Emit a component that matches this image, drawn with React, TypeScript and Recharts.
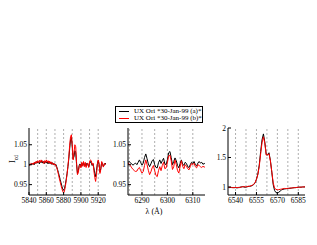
import { LineChart, Line, XAxis, YAxis, ReferenceLine } from "recharts";

const seriesNames = ["UX Ori *30-Jan-99 (a)*", "UX Ori *30-Jan-99 (b)*"];
const seriesColors = ["#000000", "#ff0000"];

// Na D region
const naWave = [
  5839, 5840, 5841, 5842, 5843, 5844, 5845, 5846, 5847, 5848, 5849, 5850, 5851, 5852, 5853, 5854,
  5855, 5856, 5857, 5858, 5859, 5860, 5861, 5862, 5863, 5864, 5865, 5866, 5867, 5868, 5869, 5870,
  5871, 5872, 5873, 5874, 5875, 5876, 5877, 5878, 5879, 5880, 5881, 5882, 5883, 5884, 5885, 5886,
  5887, 5888, 5889, 5890, 5891, 5892, 5893, 5894, 5895, 5896, 5897, 5898, 5899, 5900, 5901, 5902,
  5903, 5904, 5905, 5906, 5907, 5908, 5909, 5910, 5911, 5912, 5913, 5914, 5915, 5916, 5917, 5918,
  5919, 5920, 5921, 5922, 5923, 5924, 5925, 5926, 5927, 5928, 5929, 5930,
];
const naA = [
  1.0, 0.998, 1.002, 0.999, 1.003, 1.001, 1.004, 1.0, 1.006, 1.003, 1.008, 1.004, 1.007, 1.002, 1.009, 1.005,
  1.01, 1.004, 1.008, 1.003, 1.009, 1.004, 1.007, 1.002, 1.008, 1.003, 1.006, 1.001, 1.005, 1.0, 1.003, 0.999,
  1.001, 0.995, 0.988, 0.98, 0.972, 0.963, 0.955, 0.946, 0.939, 0.936, 0.94, 0.95, 0.963, 0.978, 0.995, 1.015,
  1.04, 1.062, 1.068, 1.045, 1.015, 1.02, 1.035, 1.03, 1.0, 0.978, 0.985, 0.998, 1.002, 0.995, 1.004, 0.998,
  1.005, 0.997, 1.003, 0.996, 1.004, 1.0, 0.995, 1.003, 1.008, 1.004, 0.998, 1.002, 0.992, 0.978, 0.97, 0.985,
  1.002, 1.01, 1.0, 0.982, 0.99, 1.006, 1.003, 0.995, 1.0, 1.004, 1.001, 1.002,
];
const naB = [
  1.002, 1.0, 0.998, 1.003, 1.001, 1.004, 1.0, 1.006, 1.003, 1.008, 1.004, 1.01, 1.005, 1.011, 1.006, 1.012,
  1.007, 1.009, 1.003, 1.01, 1.005, 1.012, 1.006, 1.01, 1.004, 1.009, 1.002, 1.007, 1.001, 1.004, 0.999, 1.002,
  0.997, 0.993, 0.985, 0.976, 0.966, 0.957, 0.948, 0.94, 0.933, 0.929, 0.934, 0.945, 0.96, 0.976, 0.996, 1.02,
  1.048, 1.07, 1.075, 1.05, 1.012, 1.03, 1.05, 1.045, 1.005, 0.975, 0.98, 0.995, 1.0, 0.992, 1.006, 0.996,
  1.008, 0.995, 1.006, 0.993, 1.002, 1.004, 0.993, 1.007, 1.012, 1.01, 1.0, 1.004, 0.985, 0.968, 0.958, 0.975,
  1.0, 1.012, 1.003, 0.978, 0.988, 1.008, 1.0, 0.994, 1.003, 1.002, 1.0, 1.003,
];

// 6300 region
const oWave = [
  6284.5, 6285, 6285.5, 6286, 6286.5, 6287, 6287.5, 6288, 6288.5, 6289, 6289.5, 6290, 6290.5, 6291, 6291.5, 6292,
  6292.5, 6293, 6293.5, 6294, 6294.5, 6295, 6295.5, 6296, 6296.5, 6297, 6297.5, 6298, 6298.5, 6299, 6299.5, 6300,
  6300.5, 6301, 6301.5, 6302, 6302.5, 6303, 6303.5, 6304, 6304.5, 6305, 6305.5, 6306, 6306.5, 6307, 6307.5, 6308,
  6308.5, 6309, 6309.5, 6310, 6310.5, 6311, 6311.5, 6312, 6312.5, 6313, 6313.5, 6314, 6314.5, 6315,
];
const oA = [
  1.006, 1.008, 1.005, 1.001, 0.999, 1.002, 1.004, 1.0, 1.006, 1.012, 1.005, 0.999, 1.004, 1.018, 1.027, 1.015,
  1.002, 0.995, 1.002, 1.01, 1.013, 1.0, 0.993, 0.992, 1.005, 1.012, 1.003, 1.01, 1.016, 1.002, 1.0, 1.012,
  1.03, 1.033, 1.018, 1.0, 1.008, 1.017, 1.01, 0.998, 0.992, 1.003, 1.012, 1.002, 0.998, 1.006, 1.003, 0.995,
  0.993, 1.0, 1.006, 1.003, 1.008, 1.0, 0.997, 1.004, 1.008, 1.004, 1.006, 1.001, 1.003, 1.002,
];
const oB = [
  1.004, 1.002, 0.997, 0.992, 0.988, 0.985, 0.983, 0.984, 0.99, 0.993, 0.985, 0.979, 0.983, 0.998, 1.012, 1.0,
  0.986, 0.975, 0.982, 0.992, 0.998, 0.985, 0.973, 0.97, 0.985, 0.995, 0.985, 0.998, 1.006, 0.99, 0.992, 1.005,
  1.022, 1.024, 1.01, 0.988, 0.995, 1.012, 1.0, 0.985, 0.979, 0.995, 1.01, 0.996, 0.99, 1.0, 0.996, 0.99,
  0.987, 0.995, 1.003, 1.0, 1.004, 0.995, 0.992, 1.0, 0.998, 0.995, 0.993, 0.996, 0.994, 0.995,
];

// H-alpha region
const haWave = [
  6535, 6536, 6537, 6538, 6539, 6540, 6541, 6542, 6543, 6544, 6545, 6546, 6547, 6548, 6549, 6550,
  6551, 6552, 6553, 6554, 6555, 6556, 6557, 6558, 6559, 6560, 6561, 6562, 6563, 6564, 6565, 6566,
  6567, 6568, 6569, 6570, 6571, 6572, 6573, 6574, 6575, 6576, 6577, 6578, 6579, 6580, 6581, 6582,
  6583, 6584, 6585, 6586, 6587, 6588, 6589, 6590,
];
const haA = [
  0.99, 0.99, 0.992, 0.99, 0.988, 0.99, 0.985, 0.988, 0.995, 1.0, 1.005, 1.0, 0.995, 1.0, 1.008, 1.012,
  1.015, 1.025, 1.04, 1.07, 1.13, 1.22, 1.37, 1.6, 1.8, 1.9, 1.76, 1.55, 1.54, 1.58, 1.45, 1.25,
  1.04, 0.94, 0.905, 0.9, 0.91, 0.93, 0.95, 0.96, 0.965, 0.97, 0.972, 0.975, 0.978, 0.98, 0.985, 0.987,
  0.99, 0.992, 0.995, 0.998, 0.996, 1.0, 1.0, 1.002,
];
const haB = [
  0.99, 0.995, 0.99, 0.988, 0.99, 0.992, 0.99, 0.993, 0.99, 0.998, 1.003, 1.008, 1.0, 1.005, 1.012, 1.01,
  1.02, 1.03, 1.045, 1.075, 1.13, 1.21, 1.35, 1.56, 1.75, 1.85, 1.74, 1.54, 1.55, 1.56, 1.44, 1.26,
  1.07, 0.98, 0.96, 0.952, 0.955, 0.96, 0.965, 0.97, 0.975, 0.972, 0.976, 0.978, 0.98, 0.983, 0.985, 0.99,
  0.988, 0.993, 0.996, 0.995, 0.998, 1.0, 1.002, 1.0,
];

const naTicks = [5840, 5860, 5880, 5900, 5920];
const naGrid = [5850, 5860, 5870, 5880, 5890, 5900, 5910, 5920];
const oTicks = [6290, 6300, 6310];
const oGrid = [6285, 6290, 6295, 6300, 6305, 6310];
const haTicks = [6540, 6555, 6570, 6585];
const haGrid = [6540, 6547.5, 6555, 6562.5, 6570, 6577.5, 6585];
const smallYTicks = [0.95, 1, 1.05];
const haYTicks = [1, 1.5, 2];

const zip = (w: number[], a: number[], b: number[]) => w.map((x, i) => ({ w: x, a: a[i], b: b[i] }));

const FONT = "Liberation Serif";
const Y_W = 28;
const PLOT_W = 77;
const PLOT_H = 67;

const YTick = (p: any) => (
  <text x={p.x} y={p.y} dy={2.6} textAnchor="end" fontSize={7.5} fontFamily={FONT} fill="#000">
    {String(p.payload.value)}
  </text>
);
const XTick = (p: any) => (
  <text x={p.x} y={p.y} dy={6} textAnchor="middle" fontSize={7.5} fontFamily={FONT} fill="#000">
    {String(p.payload.value)}
  </text>
);

type PanelProps = {
  data: { w: number; a: number; b: number }[];
  plotLeft: number;
  xDomain: [number, number];
  xTicks: number[];
  grid: number[];
  yDomain: [number, number];
  yTicks: number[];
};

function Panel({ data, plotLeft, xDomain, xTicks, grid, yDomain, yTicks }: PanelProps) {
  return (
    <div style={{ position: "absolute", left: plotLeft - Y_W, top: 124 }}>
      <LineChart width={Y_W + PLOT_W + 2} height={4 + PLOT_H + 20} data={data} margin={{ top: 4, right: 2, left: 0, bottom: 0 }}>
        <XAxis
          dataKey="w"
          type="number"
          domain={xDomain}
          ticks={xTicks}
          allowDataOverflow
          height={20}
          tick={<XTick />}
          tickSize={-3}
          tickMargin={5}
          stroke="#000"
          interval={0}
        />
        <XAxis xAxisId="top" orientation="top" type="number" domain={xDomain} ticks={xTicks} allowDataOverflow height={0} tick={false} tickSize={-3} stroke="#000" />
        <YAxis
          type="number"
          domain={yDomain}
          ticks={yTicks}
          allowDataOverflow
          width={Y_W}
          tick={<YTick />}
          tickSize={-3}
          tickMargin={5}
          stroke="#000"
          interval={0}
        />
        <YAxis yAxisId="right" orientation="right" type="number" domain={yDomain} ticks={yTicks} allowDataOverflow width={0} tick={false} tickSize={-3} stroke="#777" />
        {grid.map((g) => (
          <ReferenceLine key={g} x={g} stroke="#9a9a9a" strokeDasharray="2 2" strokeWidth={0.8} />
        ))}
        <Line type="linear" dataKey="a" stroke={seriesColors[0]} strokeWidth={1} dot={false} isAnimationActive={false} />
        <Line type="linear" dataKey="b" stroke={seriesColors[1]} strokeWidth={1} dot={false} isAnimationActive={false} />
      </LineChart>
    </div>
  );
}

export default function App() {
  return (
    <div style={{ position: "absolute", left: 0, top: 0, width: 317, height: 245, background: "#fff", fontFamily: FONT }}>
      <Panel data={zip(naWave, naA, naB)} plotLeft={29} xDomain={[5840, 5929]} xTicks={naTicks} grid={naGrid} yDomain={[0.924, 1.092]} yTicks={smallYTicks} />
      <Panel data={zip(oWave, oA, oB)} plotLeft={128} xDomain={[6284.5, 6314.8]} xTicks={oTicks} grid={oGrid} yDomain={[0.924, 1.092]} yTicks={smallYTicks} />
      <Panel data={zip(haWave, haA, haB)} plotLeft={228} xDomain={[6534.6, 6589.8]} xTicks={haTicks} grid={haGrid} yDomain={[0.864, 2.0]} yTicks={haYTicks} />

      <div style={{ position: "absolute", left: 115, top: 106, width: 86, height: 15, border: "1px solid #000", background: "#fff", fontSize: 7, lineHeight: "7.5px" }}>
        {seriesNames.map((n, i) => (
          <div key={n} style={{ display: "flex", alignItems: "center", height: 7.5, marginTop: i === 0 ? 0.5 : 0 }}>
            <div style={{ width: 10, height: 1, background: seriesColors[i], marginLeft: 3, marginRight: 5 }} />
            <span style={{ whiteSpace: "nowrap" }}>{n}</span>
          </div>
        ))}
      </div>

      <div style={{ position: "absolute", left: 5, top: 154, width: 16, height: 10, fontSize: 8, transform: "rotate(-90deg)", textAlign: "center", lineHeight: "10px" }}>
        I<sub style={{ fontSize: 5.5 }}>cd</sub>
      </div>
      <div style={{ position: "absolute", left: 134, top: 207, width: 40, textAlign: "center", fontSize: 8 }}>λ (Å)</div>
    </div>
  );
}
